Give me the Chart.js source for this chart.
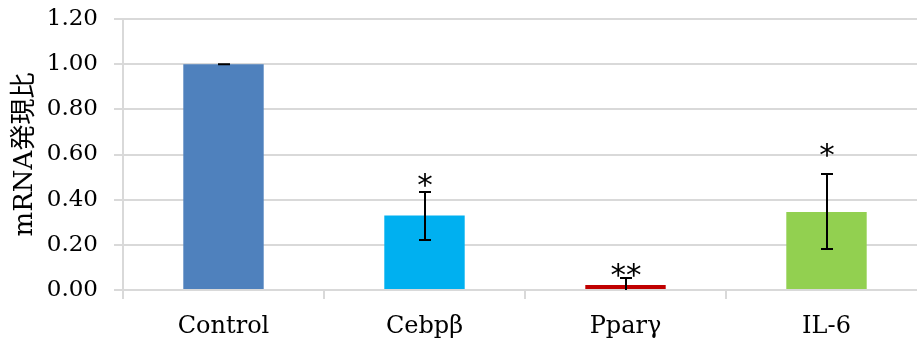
<!DOCTYPE html>
<html>
<head>
<meta charset="utf-8">
<script src="https://cdn.jsdelivr.net/npm/chart.js@4"></script>
<style>
  html, body { margin: 0; padding: 0; background: #fff; overflow: hidden; }
  #wrap { width: 930px; height: 347px; position: relative; }
</style>
</head>
<body>
<div id="wrap"><canvas id="c"></canvas></div>
<script>
const categories = ['Control', 'Cebpβ', 'Pparγ', 'IL-6'];
const values = [1.00, 0.33, 0.022, 0.345];
const errHigh = [1.00, 0.434, 0.053, 0.514];
const errLow = [1.00, 0.221, 0.0, 0.182];
const stars = ['', '*', '**', '*'];
const starY = [null, 0.487, 0.088, 0.62];
const barColors = ['#4F81BD', '#00B0F0', '#C00000', '#92D050'];
const yTicks = [0, 0.2, 0.4, 0.6, 0.8, 1.0, 1.2];
const yTitle = 'mRNA発現比';

const SERIF = "'DejaVu Serif', 'Noto Sans CJK JP', serif";

const errorBarPlugin = {
  id: 'errorBars',
  afterDatasetsDraw(chart) {
    const ctx = chart.ctx;
    const meta = chart.getDatasetMeta(0);
    const y = chart.scales.y;
    ctx.save();
    ctx.strokeStyle = '#000';
    ctx.lineWidth = 2;
    meta.data.forEach((bar, i) => {
      const x = Math.round(bar.x);
      const yh = y.getPixelForValue(errHigh[i]);
      const yl = y.getPixelForValue(errLow[i]);
      ctx.beginPath();
      ctx.moveTo(x, yh); ctx.lineTo(x, yl);
      ctx.moveTo(x - 6, yh); ctx.lineTo(x + 6, yh);
      if (errLow[i] > 0) { ctx.moveTo(x - 6, yl); ctx.lineTo(x + 6, yl); }
      ctx.stroke();
      if (stars[i]) {
        ctx.font = "31px 'DejaVu Sans'";
        ctx.fillStyle = '#000';
        ctx.textAlign = 'center';
        ctx.textBaseline = 'alphabetic';
        const m = ctx.measureText(stars[i]);
        const cy = y.getPixelForValue(starY[i]);
        const base = cy + (m.actualBoundingBoxAscent - m.actualBoundingBoxDescent) / 2;
        ctx.fillText(stars[i], x, base);
      }
    });
    ctx.restore();
  }
};

new Chart(document.getElementById('c'), {
  type: 'bar',
  data: {
    labels: categories,
    datasets: [{
      data: values,
      backgroundColor: barColors,
      borderWidth: 0,
      categoryPercentage: 1.0,
      barPercentage: 0.4
    }]
  },
  options: {
    responsive: true,
    maintainAspectRatio: false,
    animation: false,
    layout: { padding: { left: 0, right: 3, top: 19, bottom: 0 } },
    plugins: { legend: { display: false }, tooltip: { enabled: false } },
    scales: {
      x: {
        grid: { display: true, drawOnChartArea: false, drawTicks: true, tickLength: 9, color: '#d9d9d9', lineWidth: 2, offset: true },
        border: { display: true, color: '#d9d9d9', width: 2 },
        ticks: { color: '#000', font: { family: SERIF, size: 24 }, padding: 13, maxRotation: 0 },
        afterFit(s) { s.height = 57; }
      },
      y: {
        min: 0, max: 1.2,
        afterBuildTicks(s) { s.ticks = yTicks.map(v => ({ value: v })); },
        grid: { color: '#d9d9d9', lineWidth: 2, tickLength: 9 },
        border: { display: true, color: '#d9d9d9', width: 2 },
        ticks: { color: '#000', font: { family: SERIF, size: 23 }, padding: 16, callback: v => Number(v).toFixed(2) },
        title: { display: true, text: yTitle, color: '#000', font: { family: SERIF, size: 26 }, padding: { top: 10, bottom: 0 } },
        afterFit(s) { s.width = 123; s.paddingTop = 0; s.paddingBottom = 0; }
      }
    }
  },
  plugins: [errorBarPlugin]
});
</script>
</body>
</html>
